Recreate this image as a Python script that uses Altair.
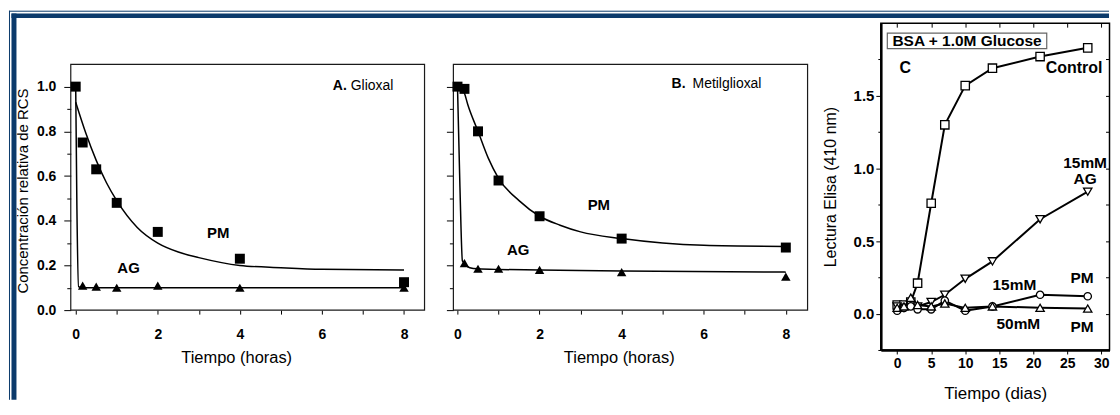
import altair as alt
import pandas as pd

FONT = "Liberation Sans"
NAVY = "#0b3a6b"

# ---------------- data ----------------
# Panel A: Glioxal
a_pm_t = [0, 0.17, 0.5, 1, 2, 4, 8]
a_pm_v = [1.0, 0.75, 0.63, 0.48, 0.35, 0.23, 0.125]
a_ag_t = [0.17, 0.5, 1, 2, 4, 8]
a_ag_v = [0.11, 0.105, 0.10, 0.11, 0.10, 0.10]
a_pmfit_t = [0, 0.25, 0.5, 0.75, 1, 1.5, 2, 2.5, 3, 4, 5, 6, 8]
a_pmfit_v = [0.93, 0.79, 0.67, 0.57, 0.49, 0.37, 0.30, 0.26, 0.235, 0.20, 0.19, 0.183, 0.18]
a_agfit_t = [0, 0.03, 0.07, 0.15, 1, 2, 4, 8]
a_agfit_v = [1.0, 0.45, 0.105, 0.10, 0.10, 0.10, 0.10, 0.10]

# Panel B: Metilglioxal
b_pm_t = [0, 0.17, 0.5, 1, 2, 4, 8]
b_pm_v = [1.0, 0.99, 0.80, 0.58, 0.42, 0.32, 0.28]
b_ag_t = [0, 0.17, 0.5, 1, 2, 4, 8]
b_ag_v = [1.0, 0.21, 0.185, 0.185, 0.18, 0.17, 0.15]
b_pmfit_t = [0.05, 0.17, 0.25, 0.5, 0.75, 1, 1.5, 2, 2.5, 3, 4, 5, 6, 8]
b_pmfit_v = [1.0, 0.97, 0.92, 0.80, 0.68, 0.59, 0.49, 0.42, 0.38, 0.35, 0.32, 0.30, 0.29, 0.285]
b_agfit_t = [0, 0.06, 0.12, 0.3, 0.5, 1, 2, 4, 8]
b_agfit_v = [1.0, 0.55, 0.22, 0.19, 0.185, 0.182, 0.18, 0.175, 0.17]

# Panel C: BSA + 1.0M Glucose
days = [0, 1, 2, 3, 5, 7, 10, 14, 21, 28]
c_control = [0.06, 0.06, 0.08, 0.21, 0.76, 1.30, 1.57, 1.69, 1.77, 1.83]
c_ag15 = [0.05, 0.04, 0.06, 0.05, 0.08, 0.13, 0.24, 0.36, 0.65, 0.84]
c_pm15 = [0.02, 0.04, 0.05, 0.03, 0.03, 0.09, 0.02, 0.05, 0.13, 0.12]
c_pm50 = [0.04, 0.05, 0.11, 0.06, 0.05, 0.07, 0.04, 0.05, 0.04, 0.035]

hour_ticks = [0, 1, 2, 3, 4, 5, 6, 7, 8]
rcs_ticks = [0.0, 0.1, 0.2, 0.3, 0.4, 0.5, 0.6, 0.7, 0.8, 0.9, 1.0]
day_ticks = [0, 5, 10, 15, 20, 25, 30]
elisa_ticks = [-0.25, 0.0, 0.25, 0.5, 0.75, 1.0, 1.25, 1.5, 1.75]

# framed ranges of panels A/B and the (wider/taller) plot areas that hold them
A_FRAME_X = [-0.12, 8.5]
B_FRAME_X = [-0.1, 8.53]
A_XDOM = [-0.12, 9.203]
B_XDOM = [-0.1, 10.303]
AB_YTOP = 1.1
AB_YDOM = [0, 1.284]
C_XDOM = [-2.4, 31.2]
C_YDOM = [-0.25, 2.0]

dummy = pd.DataFrame({"k": [0]})


def txt(text, x, y, size=15, weight="bold", align="center", baseline="middle"):
    return alt.Chart(dummy).mark_text(
        text=text, font=FONT, fontSize=size, fontWeight=weight, align=align,
        baseline=baseline, color="black"
    ).encode(x=alt.value(x), y=alt.value(y))


def decay_panel(pm_t, pm_v, ag_t, ag_v, pmfit_t, pmfit_v, agfit_t, agfit_v,
                xdom, xframe, width, show_ylabels, annots, extra=()):
    x = alt.X("t:Q", scale=alt.Scale(domain=xdom, nice=False, zero=False),
              axis=alt.Axis(values=hour_ticks,
                            labelExpr="datum.value % 2 == 0 ? datum.label : ''",
                            tickSize=4, labelPadding=13, labelFontSize=14,
                            labelFontWeight="bold", domain=False,
                            title="Tiempo (horas)", titleFontSize=16.5,
                            titleFontWeight="normal", titlePadding=9, titleX=166,
                            grid=False))
    y = alt.Y("v:Q", scale=alt.Scale(domain=AB_YDOM, nice=False, zero=False),
              axis=alt.Axis(values=rcs_ticks,
                            labelExpr="round(datum.value*10) % 2 == 0 ? format(datum.value, '.1f') : ''",
                            tickSize={"condition": {"test": "round(datum.value*10) % 2 == 0", "value": 7}, "value": 4},
                            labels=show_ylabels, labelPadding=8, labelFontSize=14,
                            labelFontWeight="bold", domain=False,
                            title="Concentración relativa de RCS" if show_ylabels else None,
                            titleFontSize=15, titleFontWeight="normal", titlePadding=6,
                            titleY=168, grid=False))
    frame = pd.DataFrame({"t": [xframe[0]], "t2": [xframe[1]], "v": [0], "v2": [AB_YTOP]})
    df_pmfit = pd.DataFrame({"t": pmfit_t, "v": pmfit_v})
    df_agfit = pd.DataFrame({"t": agfit_t, "v": agfit_v})
    df_pm = pd.DataFrame({"t": pm_t, "v": pm_v})
    df_ag = pd.DataFrame({"t": ag_t, "v": ag_v})
    layers = [
        alt.Chart(frame).mark_rect(fillOpacity=0, stroke="#1a1a1a", strokeWidth=1.2).encode(
            x=x, x2="t2:Q", y=y, y2="v2:Q"),
        alt.Chart(df_agfit).mark_line(color="black", strokeWidth=1.5, interpolate="monotone").encode(x=x, y=y),
        alt.Chart(df_pmfit).mark_line(color="black", strokeWidth=1.5, interpolate="monotone").encode(x=x, y=y),
        alt.Chart(df_ag).mark_point(shape="triangle-up", filled=True, color="black", size=90, opacity=1).encode(x=x, y=y),
        alt.Chart(df_pm).mark_point(shape="square", filled=True, color="black", size=100, opacity=1).encode(x=x, y=y),
    ]
    layers += [txt(*a) for a in annots]
    layers += list(extra)
    return alt.layer(*layers).properties(width=width, height=288,
                                         view=alt.ViewConfig(stroke=None))


# dark blue double frame of the figure (top and left edges), drawn with panel A
W_RIGHT = 1042
frame_deco = [
    alt.Chart(dummy).mark_rule(color=NAVY, strokeWidth=1).encode(
        x=alt.value(-62), x2=alt.value(W_RIGHT), y=alt.value(-12)),
    alt.Chart(dummy).mark_rule(color=NAVY, strokeWidth=4.5).encode(
        x=alt.value(-59.5), x2=alt.value(W_RIGHT), y=alt.value(-7.5)),
    alt.Chart(dummy).mark_rule(color=NAVY, strokeWidth=1).encode(
        x=alt.value(-61.5), y=alt.value(-12.5), y2=alt.value(378)),
    alt.Chart(dummy).mark_rule(color=NAVY, strokeWidth=5).encode(
        x=alt.value(-57), y=alt.value(-9.75), y2=alt.value(378)),
]

panel_a = decay_panel(
    a_pm_t, a_pm_v, a_ag_t, a_ag_v, a_pmfit_t, a_pmfit_v, a_agfit_t, a_agfit_v,
    A_XDOM, A_FRAME_X, 384, True,
    [("A.", 263, 63, 14, "bold", "left"), ("Glioxal", 281, 63, 14, "normal", "left"),
     ("PM", 148, 211, 15), ("AG", 58, 246, 15)],
    extra=frame_deco)

panel_b = decay_panel(
    b_pm_t, b_pm_v, b_ag_t, b_ag_v, b_pmfit_t, b_pmfit_v, b_agfit_t, b_agfit_v,
    B_XDOM, B_FRAME_X, 428.5, False,
    [("B.", 219, 61, 14, "bold", "left"), ("Metilglioxal", 240, 61, 14, "normal", "left"),
     ("PM", 146, 183, 15), ("AG", 65, 228, 15)])

# ---------------- panel C ----------------
xs = alt.Scale(domain=C_XDOM, nice=False, zero=False)
ys = alt.Scale(domain=C_YDOM, nice=False, zero=False)
major_test = "datum.value*2 == round(datum.value*2)"
xc = alt.X("d:Q", scale=xs,
           axis=alt.Axis(values=day_ticks, tickSize=4, labelPadding=3, labelFontSize=14,
                         labelFontWeight="bold", domain=True, domainWidth=2.5,
                         domainColor="black", title="Tiempo (dias)", titleFontSize=17,
                         titleFontWeight="normal", titlePadding=15, grid=False))
yc = alt.Y("v:Q", scale=ys,
           axis=alt.Axis(values=elisa_ticks,
                         labelExpr=major_test + " ? format(datum.value, '.1f') : ''",
                         tickSize={"condition": {"test": major_test, "value": 5}, "value": 3},
                         labelPadding=2, labelFontSize=15, labelFontWeight="bold",
                         domain=True, domainWidth=2.5, domainColor="black",
                         title="Lectura Elisa (410 nm)", titleFontSize=16,
                         titleFontWeight="normal", titlePadding=15, grid=False))
xt = alt.X("d:Q", scale=xs,
           axis=alt.Axis(orient="top", values=day_ticks, tickSize=4, offset=-4,
                         labels=False, domain=False, title=None, grid=False))
yr = alt.Y("v:Q", scale=ys,
           axis=alt.Axis(orient="right", values=elisa_ticks, tickSize=4, offset=-4,
                         labels=False, domain=False, title=None, grid=False))

series = [
    (c_control, "square"),
    (c_ag15, "triangle-down"),
    (c_pm15, "circle"),
    (c_pm50, "triangle-up"),
]
c_lines, c_points = [], []
for vals, shape in series:
    df = pd.DataFrame({"d": days, "v": vals})
    c_lines.append(alt.Chart(df).mark_line(color="black", strokeWidth=2).encode(x=xc, y=yc))
    c_points.append(alt.Chart(df).mark_point(
        shape=shape, filled=True, fill="white", stroke="black", strokeWidth=1.3,
        size=70 if shape != "circle" else 55, opacity=1).encode(x=xc, y=yc))

box = alt.Chart(dummy).mark_rect(fill="white", stroke="#666", strokeWidth=1.2).encode(
    x=alt.value(6.5), x2=alt.value(166.5), y=alt.value(10), y2=alt.value(25.5))

c_annots = [
    ("BSA + 1.0M Glucose", 86.5, 18, 15.5),
    ("C", 24.5, 45, 16),
    ("Control", 194, 45, 16),
    ("15mM", 205, 140, 15.5),
    ("AG", 205, 156, 15.5),
    ("PM", 202, 256, 15.5),
    ("15mM", 134, 263, 15.5),
    ("50mM", 138, 302, 15.5),
    ("PM", 202, 305, 15.5),
]

c_inner = alt.layer(*c_lines, *c_points, box, *[txt(*a) for a in c_annots])
c_ticks = alt.Chart(pd.DataFrame({"d": days, "v": c_control})).mark_point(opacity=0).encode(x=xt, y=yr)
panel_c = alt.layer(c_inner, c_ticks).resolve_axis(x="independent", y="independent").properties(
    width=229.5, height=328, view=alt.ViewConfig(stroke="black", strokeWidth=1.5))

chart = alt.hconcat(panel_a, panel_b, panel_c, spacing=0, bounds="flush").properties(
    padding={"left": 0, "top": 1.5, "right": 0, "bottom": 0}
).configure_view(
    stroke=None
).configure_axis(
    labelFont=FONT, titleFont=FONT, labelColor="black", titleColor="black",
    tickColor="black", domainColor="black", tickWidth=1
)

chart.save("out.html", embed_options={"renderer": "svg", "actions": False})
